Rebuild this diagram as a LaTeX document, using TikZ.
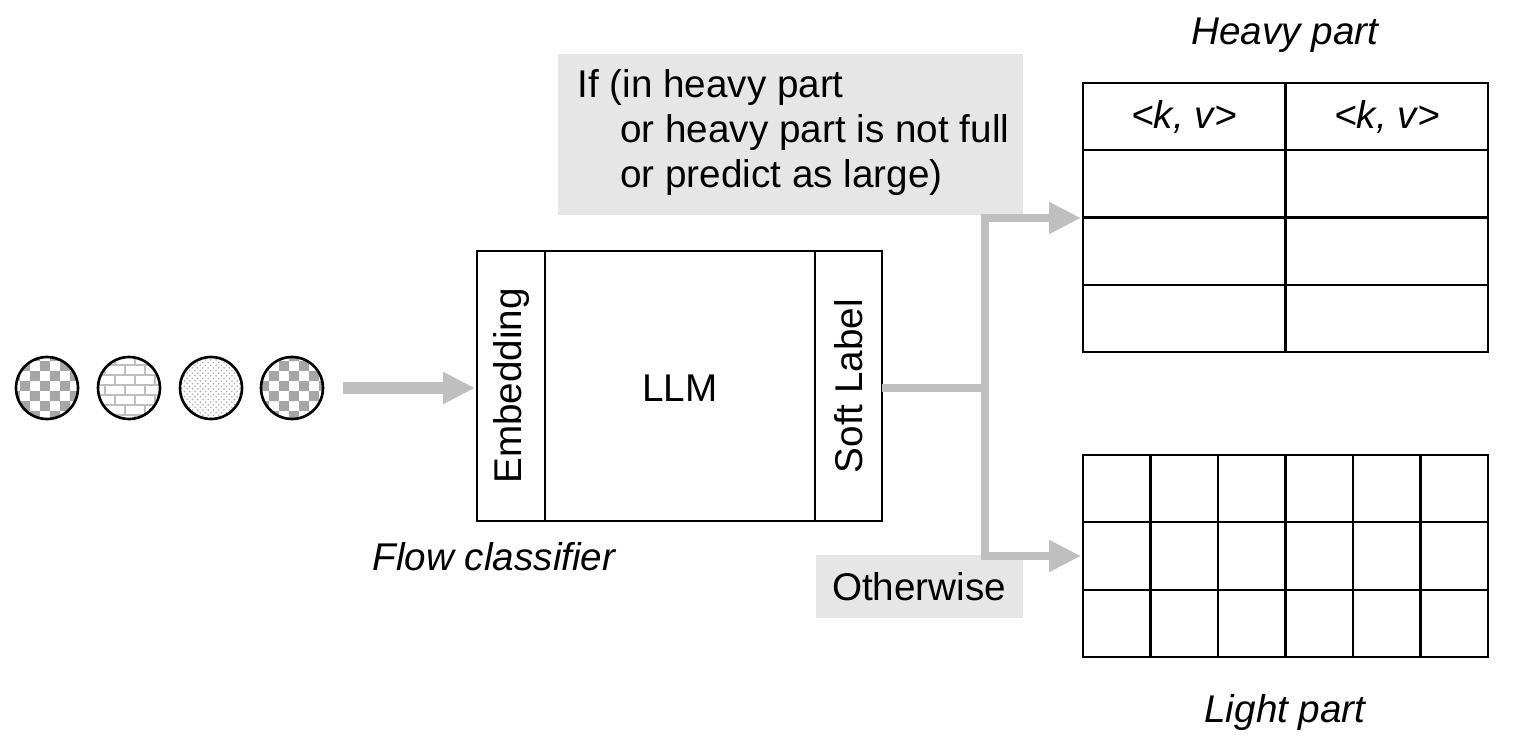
\documentclass[tikz,border=0pt]{standalone}
\usepackage{fontspec}
\setmainfont{Liberation Sans}
\usetikzlibrary{patterns,arrows.meta,positioning}
\definecolor{flowgray}{HTML}{BFBFBF}
\definecolor{boxgray}{HTML}{E6E6E6}
\tikzset{
  txt/.style={font=\fontsize{22}{27}\selectfont, inner sep=0pt},
  itxt/.style={txt, font=\fontsize{22}{27}\selectfont\itshape},
  pkt/.style={circle, draw, line width=1.5pt, minimum size=1.24cm, inner sep=0pt},
  flow/.style={draw=flowgray, line width=0.16cm},
  flowhead/.style={-{Triangle[length=0.64cm,width=0.6cm]}},
  cell/.style={draw, line width=1.2pt},
}
\begin{document}
\begin{tikzpicture}[x=0.02cm, y=-0.02cm]
  \useasboundingbox (0,0) rectangle (1517,750);

  % packets
  \node[pkt, pattern=checkerboard, pattern color=gray!70] (p1) at (47,388) {};
  \node[pkt, pattern=bricks, pattern color=gray!50] (p2) at (129,388) {};
  \node[pkt, pattern=crosshatch dots, pattern color=gray!70] (p3) at (211,388) {};
  \node[pkt, pattern=checkerboard, pattern color=gray!70] (p4) at (292,388) {};

  % flow classifier
  \draw[line width=1.2pt] (477,251) rectangle (882,521);
  \draw[line width=1.2pt] (545,251) -- (545,521) (815,251) -- (815,521);
  \node[txt, rotate=90] (emb) at (511,386) {Embedding};
  \node[txt] (llm) at (680,388) {LLM};
  \node[txt, rotate=90] (soft) at (849,386) {Soft Label};
  \coordinate (clsin) at (475,388);
  \coordinate (clsout) at (882,388);
  \node[itxt] (clsname) at (494,557) {Flow classifier};

  \coordinate (pktout) at (343,388);
  \draw[flow, flowhead, line width=0.24cm] (pktout) -- (clsin);

  % conditions
  \fill[boxgray] (558,54) rectangle (1023,215);
  \node[txt, anchor=west] (c1) at (577,88) {If (in heavy part};
  \node[txt, anchor=west] (c2) at (620,133) {or heavy part is not full};
  \node[txt, anchor=west] (c3) at (620,178) {or predict as large)};
  \fill[boxgray] (816,555) rectangle (1023,618);
  \node[txt] (other) at (919,587) {Otherwise};

  % branches
  \coordinate (split) at (985,388);
  \coordinate (up) at (985,218);
  \coordinate (down) at (985,556);
  \coordinate (heavyin) at (1081,218);
  \coordinate (lightin) at (1081,556);
  \draw[flow] (clsout) -- (split);
  \draw[flow, flowhead, line join=miter] (split) -- (up) -- (heavyin);
  \draw[flow, flowhead, line join=miter] (split) -- (down) -- (lightin);

  % heavy part
  \node[itxt] (heavy) at (1285,35) {Heavy part};
  \foreach \r in {0,...,3}
    \foreach \c in {0,1}
      \draw[cell] ({1083+\c*202.5},{83+\r*67.25}) rectangle ++(202.5,67.25);
  \node[itxt] (kv1) at (1184,117) {<k, v>};
  \node[itxt] (kv2) at (1387,117) {<k, v>};

  % light part
  \foreach \r in {0,...,2}
    \foreach \c in {0,...,5}
      \draw[cell] ({1083+\c*67.5},{455+\r*67.33}) rectangle ++(67.5,67.33);
  \node[itxt] (light) at (1285,712) {Light part};
\end{tikzpicture}
\end{document}
